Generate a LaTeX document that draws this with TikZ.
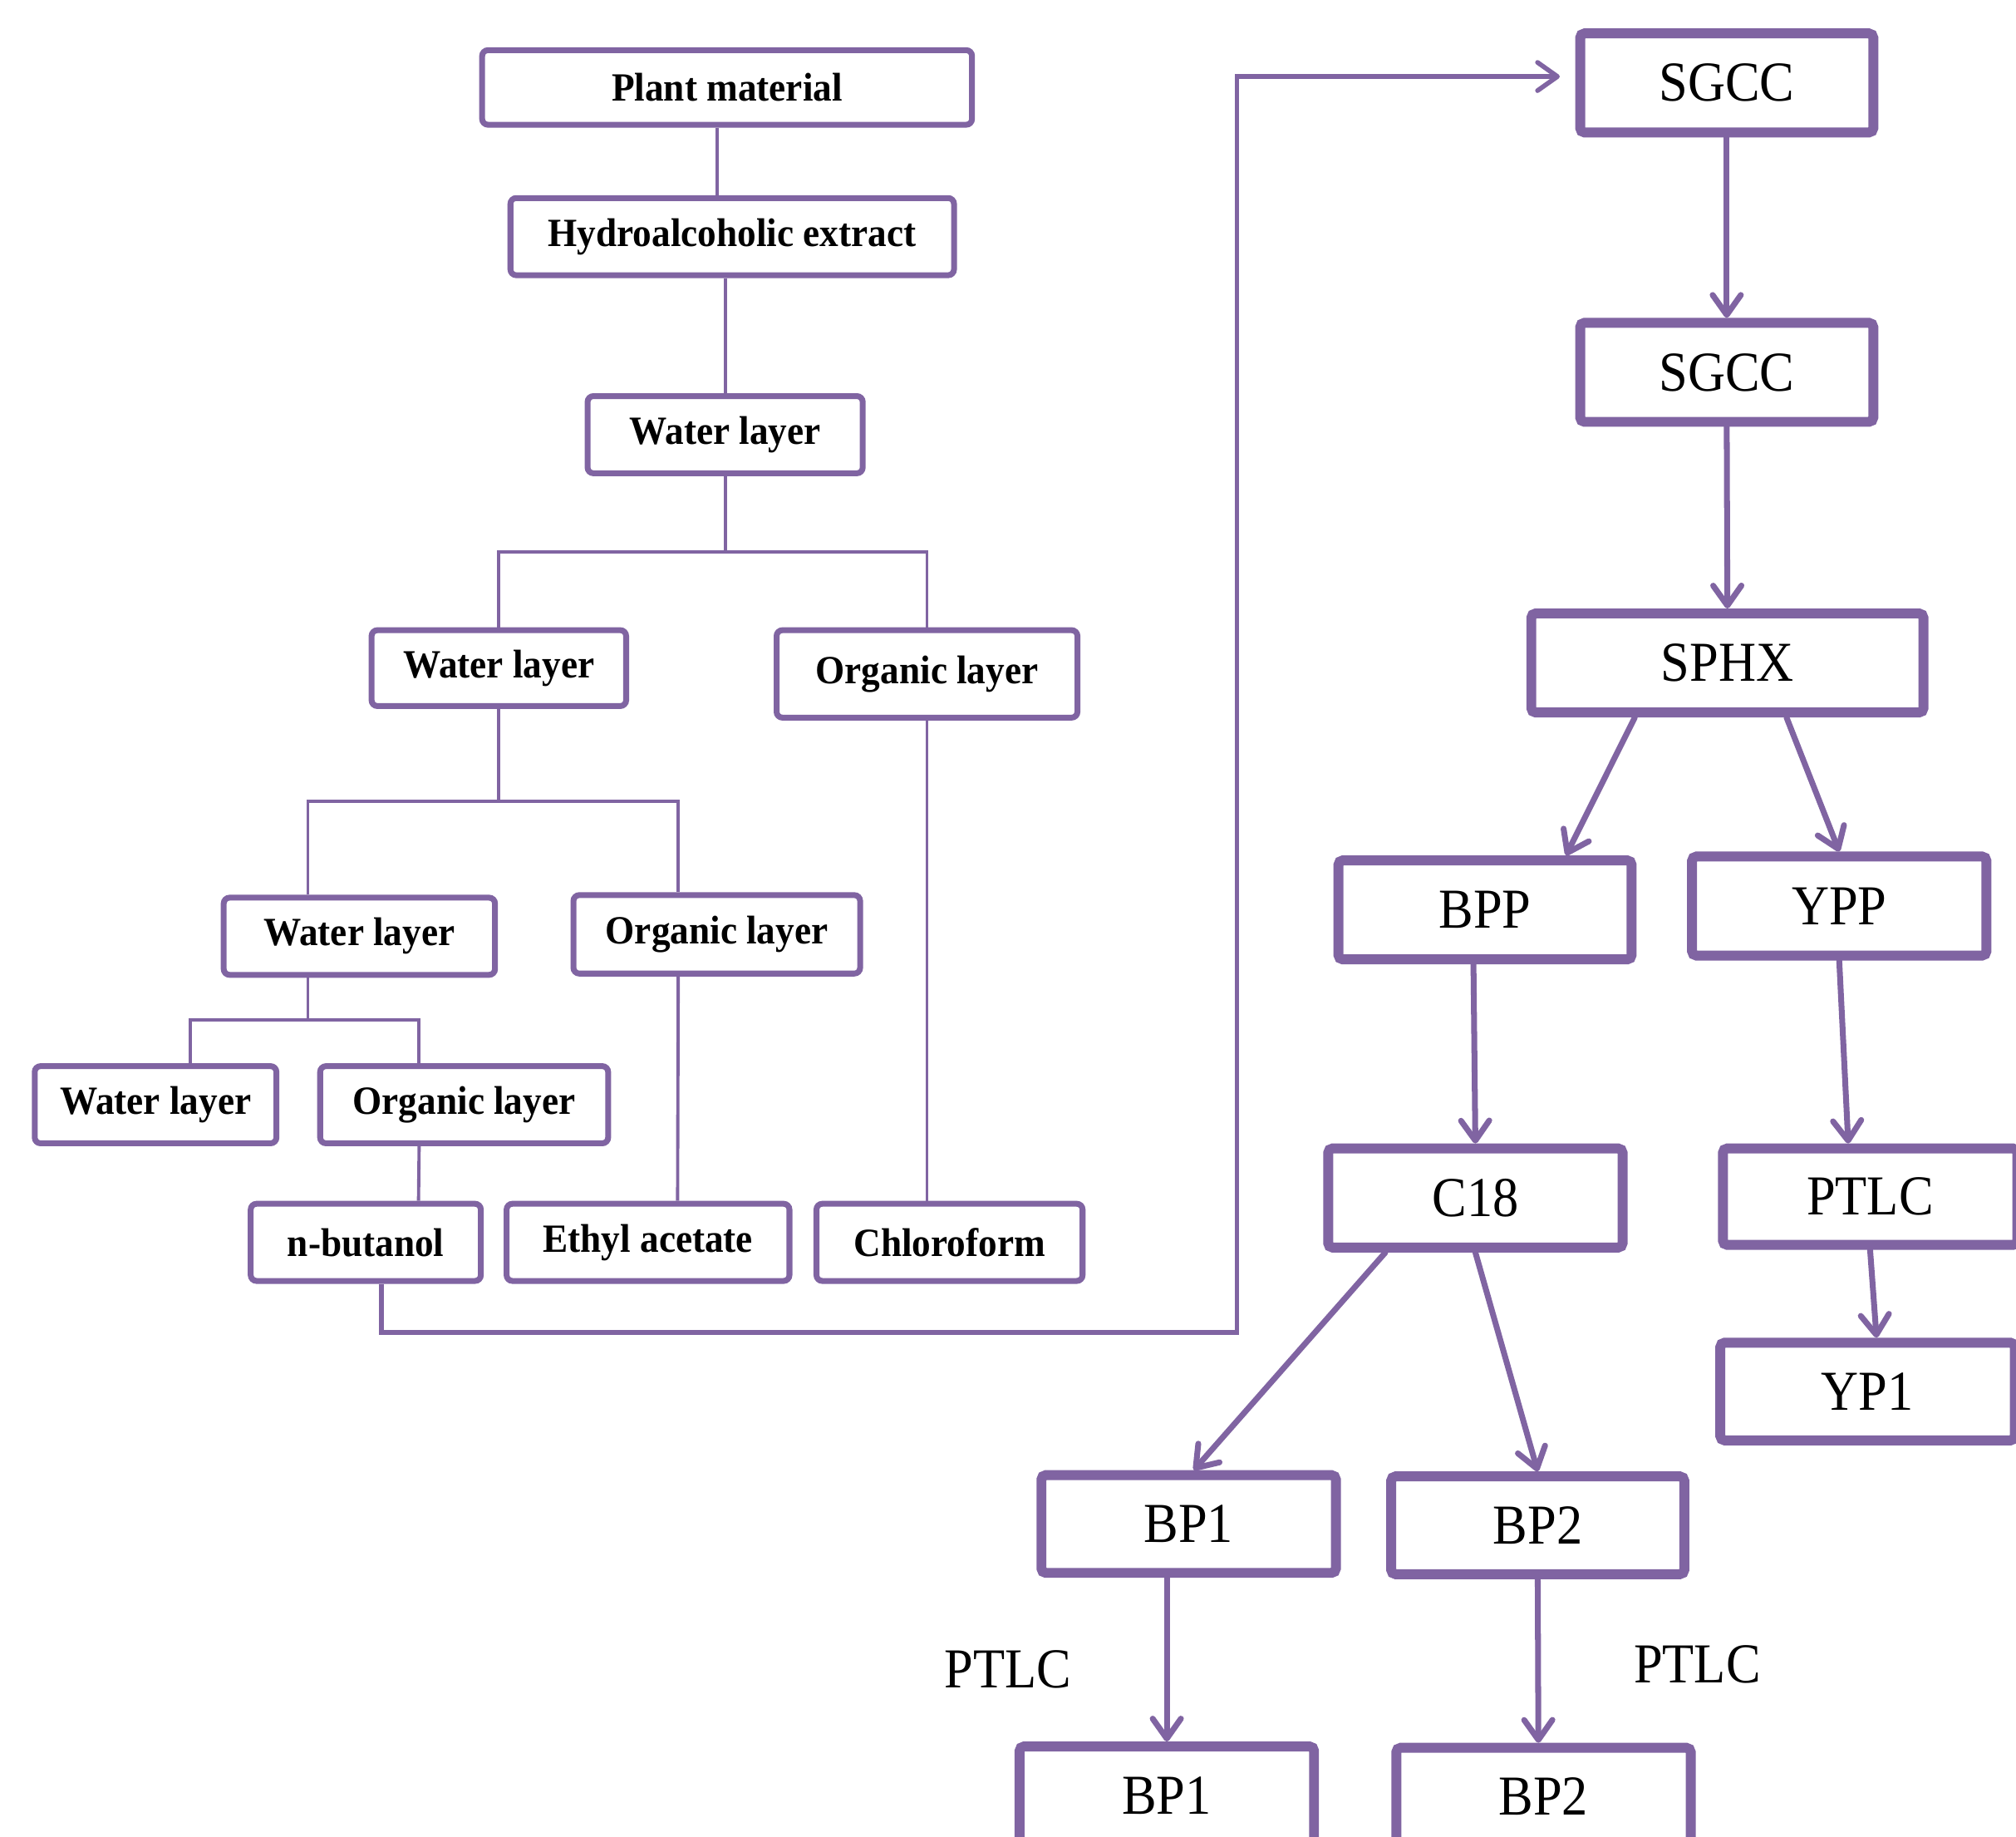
\documentclass[tikz,border=0pt]{standalone}
\usepackage{fontspec}
\setmainfont{Liberation Serif}
\newfontfamily\leftfont[FakeStretch=0.94]{Liberation Serif}
\newfontfamily\rightfont[FakeStretch=0.92]{Liberation Serif}
\usepackage{tikz}
\usetikzlibrary{arrows.meta,calc}
\definecolor{boxpurple}{HTML}{8064A2}
\newcommand{\pxu}{0.01547cm}
\tikzset{
  boxsize/.style 2 args={
    minimum width=#1*\pxu,
    minimum height=#2*\pxu
  },
  leftbox/.style={
    draw=boxpurple,
    line width=2pt,
    rounded corners=2pt,
    inner sep=0pt,
    font=\leftfont\fontsize{13.7}{16}\selectfont\bfseries
  },
  rightbox/.style={
    draw=boxpurple,
    line width=3.4pt,
    rounded corners=1.5pt,
    inner sep=0pt,
    font=\rightfont\fontsize{19.3}{22}\selectfont
  },
  note/.style={
    inner sep=0pt,
    font=\rightfont\fontsize{19.3}{22}\selectfont
  },
  link/.style={
    draw=boxpurple,
    line width=1.1pt
  },
  flow/.style={
    draw=boxpurple,
    line width=2pt,
    line cap=round,
    -{Straight Barb[length=2.4mm,width=3.4mm,line cap=round,line join=round]}
  }
}

\begin{document}
\begin{tikzpicture}[x=\pxu,y=-\pxu]
  \useasboundingbox (0,0) rectangle (1568,1428);
  \clip (0,0) rectangle (1568,1428);
  % extraction tree
  \node[leftbox,boxsize={381}{58}] (pm) at (565.5,68) {Plant material};
  \node[leftbox,boxsize={345}{60}] (hy) at (569.5,184) {Hydroalcoholic extract};
  \node[leftbox,boxsize={214}{60}] (wl1) at (564,338) {Water layer};
  \node[leftbox,boxsize={198}{59}] (wl2) at (388,519.5) {Water layer};
  \node[leftbox,boxsize={234}{68}] (ol1) at (721,524) {Organic layer};
  \node[leftbox,boxsize={211}{60}] (wl3) at (279.5,728) {Water layer};
  \node[leftbox,boxsize={223}{61}] (ol2) at (557.5,726.5) {Organic layer};
  \node[leftbox,boxsize={188}{60}] (wl4) at (121,859) {Water layer};
  \node[leftbox,boxsize={224}{60}] (ol3) at (361,859) {Organic layer};
  \node[leftbox,boxsize={179}{60}] (nb) at (284.5,966) {n-butanol};
  \node[leftbox,boxsize={220}{60}] (ea) at (504,966) {Ethyl acetate};
  \node[leftbox,boxsize={207}{60}] (cf) at (738.5,966) {Chloroform};

  \draw[link] ($(pm.south)+(-8,0)$) -- ($(hy.north)+(-12,0)$);
  \draw[link] (wl1.north) -- (wl1.north |- hy.south);
  \draw[link] (wl1.south) -- ++(0,59) coordinate (j1);
  \draw[link] (wl2.north) |- (j1) -| (ol1.north);
  \draw[link] (wl2.south) -- ++(0,72) coordinate (j2);
  \draw[link] ($(wl3.north)+(-40,0)$) |- (j2) -| ($(ol2.north)+(-30,0)$);
  \draw[link] (ol1.south) -- (ol1.south |- cf.north);
  \draw[link] ($(ol2.south)+(-30,0)$) -- ($(ea.north)+(23,0)$);
  \draw[link] ($(wl3.south)+(-40,0)$) -- ++(0,33) coordinate (j3);
  \draw[link] ($(wl4.north)+(27,0)$) |- (j3) -| ($(ol3.north)+(-35,0)$);
  \draw[link] ($(ol3.south)+(-35,0)$) -- ($(nb.north)+(41,0)$);

  % chromatography
  \node[rightbox,boxsize={228}{77}] (sgcc1) at (1343,64.5) {SGCC};
  \node[rightbox,boxsize={228}{77}] (sgcc2) at (1343,289.5) {SGCC};
  \node[rightbox,boxsize={305}{77}] (sphx) at (1343.5,515.5) {SPHX};
  \node[rightbox,boxsize={228}{77}] (bpp) at (1155,707.5) {BPP};
  \node[rightbox,boxsize={229}{77}] (ypp) at (1430.5,704.5) {YPP};
  \node[rightbox,boxsize={229}{77}] (c18) at (1147.5,931.5) {C18};
  \node[rightbox,boxsize={229}{75}] (ptlc) at (1454.5,930.5) {PTLC};
  \node[rightbox,boxsize={229}{76}] (yp1) at (1452.5,1082) {YP1};
  \node[rightbox,boxsize={229}{76}] (bp1) at (924.5,1185) {BP1};
  \node[rightbox,boxsize={228}{76}] (bp2) at (1196,1186) {BP2};
  \node[rightbox,boxsize={229}{76}] (bp1b) at (907.5,1396) {BP1};
  \node[rightbox,boxsize={229}{76}] (bp2b) at (1200.5,1397) {BP2};
  \node[note] (lab1) at (784,1298) {PTLC};
  \node[note] (lab2) at (1320,1294) {PTLC};

  \coordinate (turn) at (962,1036);
  \draw[flow,line width=1.6pt,line cap=butt] ($(nb.south)+(12,0)$) |- (turn) |- ($(sgcc1.west)+(-12,-5)$);
  \draw[flow] (sgcc1.south) -- (sgcc2.north);
  \draw[flow] (sgcc2.south) -- (sphx.north);
  \draw[flow] ($(sphx.south)+(-72,0)$) -- ($(bpp.north)+(63,0)$);
  \draw[flow] ($(sphx.south)+(46,0)$) -- (ypp.north);
  \draw[flow] ($(bpp.south)+(-9,0)$) -- (c18.north);
  \draw[flow] (ypp.south) -- ($(ptlc.north)+(-17,0)$);
  \draw[flow] (ptlc.south) -- ($(yp1.north)+(7,0)$);
  \draw[flow] ($(c18.south)+(-70,0)$) -- ($(bp1.north)+(4,0)$);
  \draw[flow] (c18.south) -- (bp2.north);
  \draw[flow] ($(bp1.south)+(-17,0)$) -- (bp1b.north);
  \draw[flow] (bp2.south) -- ($(bp2b.north)+(-4,0)$);
\end{tikzpicture}
\end{document}
